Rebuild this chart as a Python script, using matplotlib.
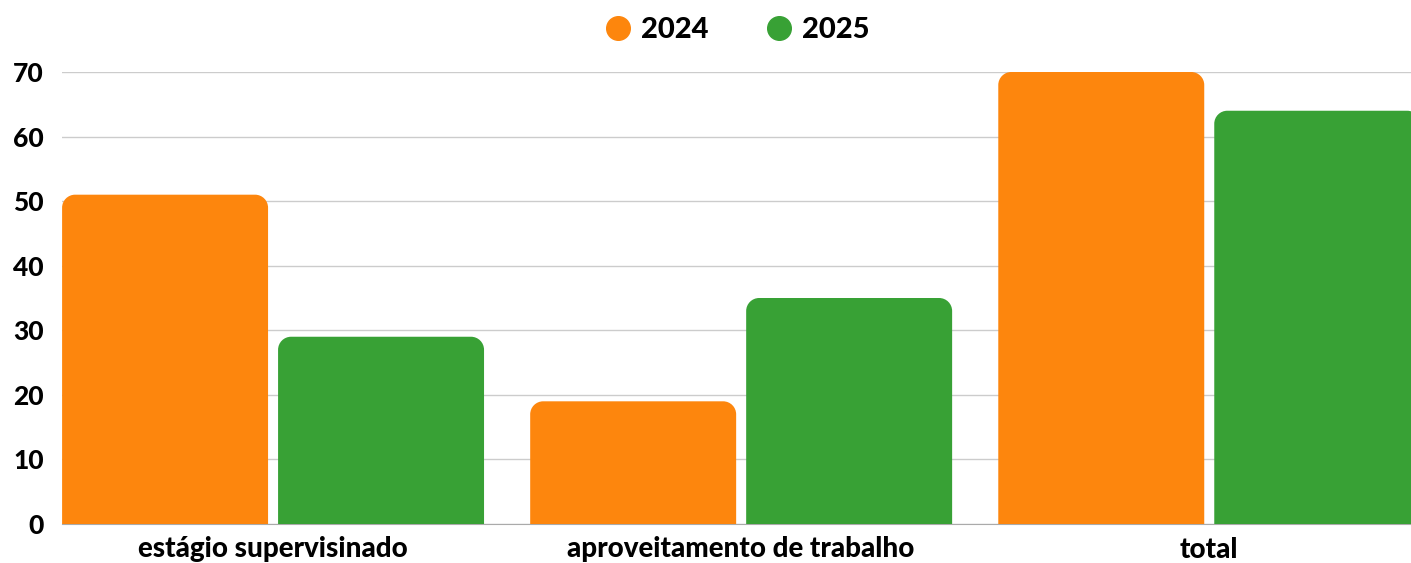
import matplotlib
matplotlib.use("Agg")
import matplotlib.pyplot as plt
import numpy as np
from matplotlib.path import Path
from matplotlib.patches import PathPatch
from matplotlib.lines import Line2D

categories = ["estágio supervisinado", "aproveitamento de trabalho", "total"]
series_names = ["2024", "2025"]
values_2024 = [51, 19, 70]
values_2025 = [29, 35, 64]
colors = ["#FD860D", "#38A135"]
yticks = [0, 10, 20, 30, 40, 50, 60, 70]

plt.rcParams['font.family'] = ['Lato', 'DejaVu Sans']
FW = 'black'

fig = plt.figure(figsize=(14.11, 5.63), dpi=100)
ax = fig.add_axes([62/1411, 1-524/563, 1-62/1411, (524-72)/563])

x = np.arange(len(categories))
bw = 0.44
off = 0.2307
bars1 = ax.bar(x - off, values_2024, bw, color=colors[0], zorder=3)
bars2 = ax.bar(x + off, values_2025, bw, color=colors[1], zorder=3)

ax.set_xlim(-0.4509, 2.431)
ax.set_ylim(0, 70)
ax.set_yticks(yticks)
ax.set_xticks(x)
ax.set_xticklabels(categories, fontsize=20, fontweight=FW)
ax.tick_params(axis='x', length=0, pad=9)
ax.tick_params(axis='y', length=0, pad=13, labelsize=19)
for t in ax.get_yticklabels():
    t.set_fontweight(FW)
ax.grid(axis='y', color='#cccccc', linewidth=1, zorder=0)
for s in ['top', 'right', 'left']:
    ax.spines[s].set_visible(False)
ax.spines['bottom'].set_color('#aaaaaa')
ax.spines['bottom'].set_zorder(1)

# rounded top corners
fig.canvas.draw()
r_px = 13
(x0, y0), (x1, y1) = ax.transData.inverted().transform([(0, 0), (r_px, r_px)])
rx, ry = x1 - x0, y1 - y0
for bars in (bars1, bars2):
    for b in bars:
        bx, by, w, h = b.get_x(), b.get_y(), b.get_width(), b.get_height()
        k = 0.5523
        verts = [
            (bx, by),
            (bx, by + h - ry),
            (bx, by + h - ry + k * ry), (bx + rx - k * rx, by + h), (bx + rx, by + h),
            (bx + w - rx, by + h),
            (bx + w - rx + k * rx, by + h), (bx + w, by + h - ry + k * ry), (bx + w, by + h - ry),
            (bx + w, by),
            (bx, by),
        ]
        codes = [Path.MOVETO, Path.LINETO,
                 Path.CURVE4, Path.CURVE4, Path.CURVE4,
                 Path.LINETO,
                 Path.CURVE4, Path.CURVE4, Path.CURVE4,
                 Path.LINETO, Path.CLOSEPOLY]
        patch = PathPatch(Path(verts, codes), facecolor=b.get_facecolor(),
                          edgecolor='none', zorder=3)
        ax.add_patch(patch)
        b.set_visible(False)

handles = [Line2D([0], [0], marker='o', linestyle='none', markersize=17,
                  markerfacecolor=c, markeredgecolor=c) for c in colors]
leg = fig.legend(handles, series_names, loc='center',
                 bbox_to_anchor=((62 + 1411) / 2 / 1411, 1 - 30 / 563),
                 ncol=2, frameon=False, prop={'size': 21, 'weight': FW},
                 handletextpad=0.3, columnspacing=1.9, handlelength=1.0)

fig.savefig("out.png", dpi=100)
